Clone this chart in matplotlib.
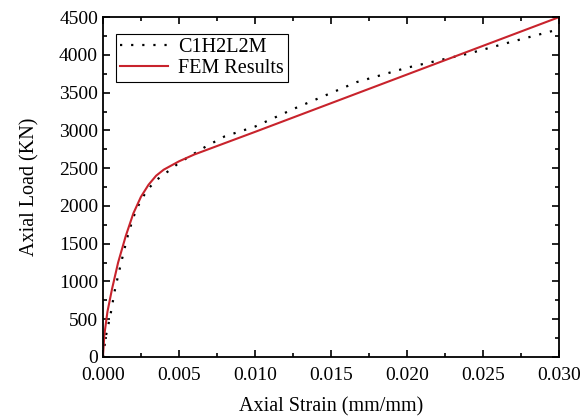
import matplotlib.pyplot as plt
from matplotlib.ticker import MultipleLocator

plt.rcParams['font.family'] = ['Liberation Serif', 'DejaVu Serif']

# experimental curve C1H2L2M
exp_strain = [0, 0.0002, 0.0005, 0.0008, 0.0012, 0.0016, 0.002, 0.0025, 0.003, 0.0035,
              0.0044, 0.005, 0.0068, 0.008, 0.010, 0.0126, 0.0167, 0.020, 0.0241, 0.027, 0.030]
exp_load = [0, 280, 560, 900, 1250, 1580, 1850, 2080, 2230, 2340,
            2475, 2570, 2790, 2920, 3050, 3290, 3640, 3830, 4020, 4180, 4340]

# FEM results
fem_strain = [0, 0.0001, 0.0003, 0.0006, 0.001, 0.0015, 0.002, 0.0025, 0.003, 0.0035,
              0.004, 0.005, 0.006, 0.008, 0.010, 0.015, 0.020, 0.025, 0.030]
fem_load = [0, 300, 600, 900, 1250, 1600, 1900, 2120, 2280, 2400,
            2480, 2590, 2680, 2830, 2980, 3360, 3740, 4120, 4500]

fig = plt.figure(figsize=(5.88, 4.17), dpi=100)
ax = fig.add_axes([0.175, 0.144, 0.776, 0.815])

ax.plot(exp_strain, exp_load, color='black', linestyle=(0, (1, 4)), lw=1.6, label='C1H2L2M')
ax.plot(fem_strain, fem_load, color='#c8232c', lw=1.5, label='FEM Results')

ax.set_xlim(0, 0.030)
ax.set_ylim(0, 4500)
ax.xaxis.set_major_locator(MultipleLocator(0.005))
ax.xaxis.set_minor_locator(MultipleLocator(0.0025))
ax.yaxis.set_major_locator(MultipleLocator(500))
ax.yaxis.set_minor_locator(MultipleLocator(250))
ax.xaxis.set_major_formatter(plt.FormatStrFormatter('%.3f'))
ax.tick_params(which='both', direction='in', top=True, right=True, labelsize=14, width=1.2)
ax.tick_params(axis='x', pad=7)
ax.tick_params(which='major', length=5)
ax.tick_params(which='minor', length=3)
for s in ax.spines.values():
    s.set_linewidth(1.3)

ax.set_xlabel('Axial Strain (mm/mm)', fontsize=14.5, labelpad=10)
ax.set_ylabel('Axial Load (KN)', fontsize=14.5, labelpad=14)

leg = ax.legend(loc='upper left', fontsize=14.5, fancybox=False, edgecolor='black',
                framealpha=1, borderpad=0.2, handlelength=2.4, handletextpad=0.5,
                labelspacing=0.1, borderaxespad=0, bbox_to_anchor=(0.028, 0.95))
leg.get_frame().set_linewidth(0.8)

fig.savefig('out.png', dpi=100, facecolor='w')
